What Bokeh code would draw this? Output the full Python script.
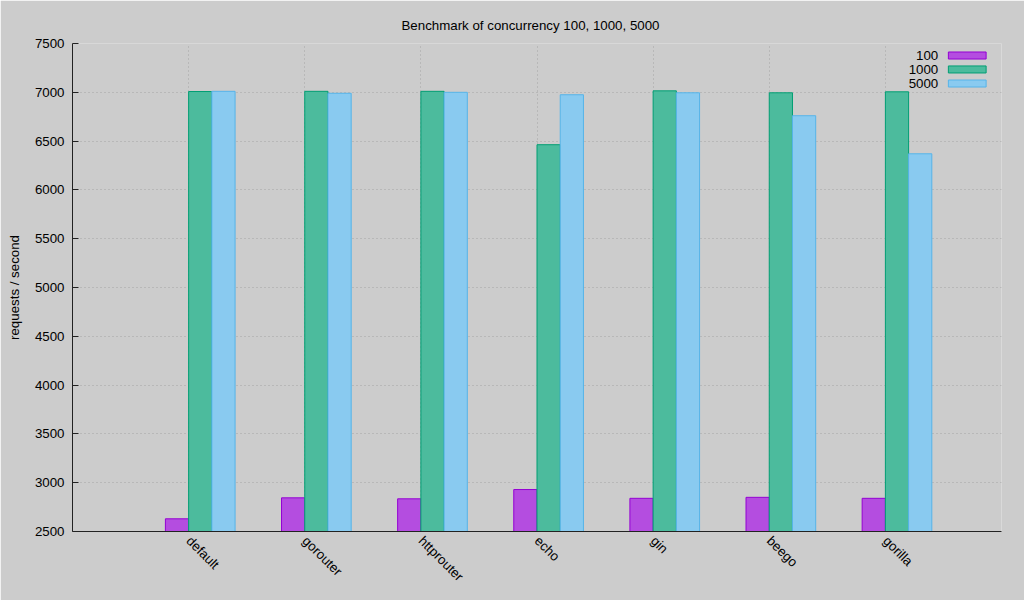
from bokeh.plotting import figure
from bokeh.models import ColumnDataSource, FixedTicker, Range1d
from bokeh.transform import dodge
from bokeh.core.properties import value
from bokeh.embed import file_html
from bokeh.resources import INLINE

# ---- data ----
frameworks = ["default", "gorouter", "httprouter", "echo", "gin", "beego", "gorilla"]
series_names = ["100", "1000", "5000"]
c100 = [2630, 2845, 2835, 2930, 2840, 2850, 2840]
c1000 = [7008, 7010, 7010, 6463, 7015, 6995, 7005]
c5000 = [7010, 6990, 7000, 6975, 6995, 6760, 6370]
y_ticks = [2500, 3000, 3500, 4000, 4500, 5000, 5500, 6000, 6500, 7000, 7500]

fills = ["#b44de0", "#4cbb9d", "#89caf0"]
borders = ["#9400d3", "#009e73", "#56b4e9"]
BG = "#cccccc"
FONT = "Liberation Sans"

src = ColumnDataSource(dict(
    idx=list(range(len(frameworks))),
    c100=c100, c1000=c1000, c5000=c5000,
))

p = figure(width=1024, height=600, output_backend="svg", toolbar_location=None,
           x_range=Range1d(-1, 7), y_range=Range1d(2500, 7500),
           title="Benchmark of concurrency 100, 1000, 5000",
           min_border_left=72, min_border_right=23, min_border_top=43, min_border_bottom=69)

p.background_fill_color = BG
p.border_fill_color = BG
p.outline_line_color = None

p.title.text_font = FONT
p.title.text_font_size = "13.3px"
p.title.text_font_style = "normal"
p.title.text_color = "#000000"
p.title.align = "left"
p.title.offset = 329
p.title.standoff = 22

# grids
for g in (p.xgrid, p.ygrid):
    g.grid_line_color = "#a4a4a4"
    g.grid_line_dash = "1 3"
    g.grid_line_width = 1
p.xgrid.ticker = FixedTicker(ticks=list(range(len(frameworks))))
p.ygrid.ticker = FixedTicker(ticks=y_ticks)

# axes
p.xaxis.ticker = FixedTicker(ticks=list(range(len(frameworks))))
p.xaxis.major_label_overrides = {i: n for i, n in enumerate(frameworks)}
p.xaxis.major_label_orientation = -0.785398
p.xaxis.major_tick_in = 0
p.xaxis.major_tick_out = 0
p.xaxis.minor_tick_line_color = None
p.xaxis.major_label_standoff = 7

p.yaxis.ticker = FixedTicker(ticks=y_ticks)
p.yaxis.major_tick_in = 6
p.yaxis.major_tick_out = 0
p.yaxis.minor_tick_line_color = None
p.yaxis.major_label_standoff = 8
p.yaxis.axis_label = "requests / second"
p.yaxis.axis_label_standoff = 10

for ax in (p.xaxis, p.yaxis):
    ax.axis_line_color = "#222222"
    ax.major_tick_line_color = "#222222"
    ax.major_label_text_font = FONT
    ax.major_label_text_font_size = "13.3px"
    ax.major_label_text_color = "#000000"
    ax.axis_label_text_font = FONT
    ax.axis_label_text_font_size = "13.3px"
    ax.axis_label_text_font_style = "normal"
    ax.axis_label_text_color = "#000000"

# bars
offsets = [-0.1, 0.1, 0.3]
cols = ["c100", "c1000", "c5000"]
for col, off, fc, lc in zip(cols, offsets, fills, borders):
    p.vbar(x=dodge("idx", off, range=p.x_range), top=col, bottom=2500, width=0.2,
           source=src, fill_color=fc, line_color=lc, line_width=1)

# legend (label on left, sample on right, gnuplot style)
leg_y = [7377, 7234, 7090]
leg_src = ColumnDataSource(dict(y=leg_y, label=series_names, fill=fills, line=borders))
p.rect(x=6.705, y="y", width=0.325, height=72, source=leg_src,
       fill_color="fill", line_color="line", line_width=1)
p.text(x=6.455, y="y", text="label", source=leg_src, text_align="right",
       text_baseline="middle", text_font=value(FONT), text_font_size="13.3px",
       text_color="#000000")

html = file_html(p, INLINE)
html = html.replace("<body>", '<body style="background-color:#cccccc">', 1)
open("out.html", "w").write(html)
